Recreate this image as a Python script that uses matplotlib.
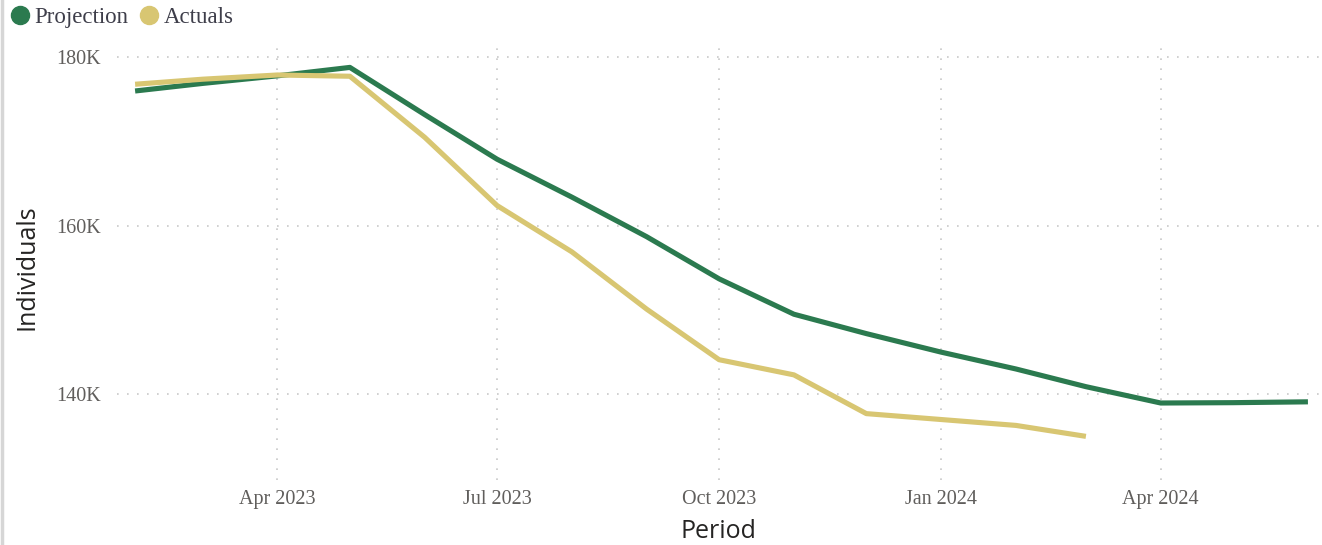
import numpy as np
import pandas as pd
import matplotlib
matplotlib.use("Agg")
import matplotlib.pyplot as plt
import matplotlib.dates as mdates
from matplotlib.lines import Line2D
from matplotlib.ticker import FuncFormatter

# data (thousands of individuals, monthly)
proj_months = pd.date_range("2023-02-01", "2024-06-01", freq="MS")
projection = [176.0, 176.9, 177.8, 178.8, 173.2, 167.9, 163.4, 158.7, 153.7,
              149.5, 147.2, 145.0, 143.0, 140.9, 138.96, 139.0, 139.1]

act_months = pd.date_range("2023-02-01", "2024-03-01", freq="MS")
actuals = [176.8, 177.4, 177.9, 177.75, 170.5, 162.4, 156.9, 150.1, 144.1,
           142.3, 137.7, 137.0, 136.3, 135.0]

yticks = [140, 160, 180]
xticks = pd.to_datetime(["2023-04-01", "2023-07-01", "2023-10-01",
                         "2024-01-01", "2024-04-01"])

green = "#2B7A4F"
khaki = "#D8C672"
tick_col = "#605E5C"
lab_col = "#252423"

W, H = 1322, 545
fig = plt.figure(figsize=(W / 100, H / 100), dpi=100)
ax = fig.add_axes([117 / W, (H - 480) / H, (1320 - 117) / W, (480 - 45) / H])

ax.plot(proj_months, np.array(projection) * 1000, color=green, lw=3.7,
        solid_capstyle="butt", solid_joinstyle="round", zorder=3)
ax.plot(act_months, np.array(actuals) * 1000, color=khaki, lw=3.7,
        solid_capstyle="butt", solid_joinstyle="round", zorder=3)

ax.set_xlim(pd.Timestamp("2023-01-24 12:00"), pd.Timestamp("2024-06-06"))
ax.set_ylim(129820, 181460)

ax.set_yticks([v * 1000 for v in yticks])
ax.yaxis.set_major_formatter(FuncFormatter(lambda v, p: f"{v/1000:.0f}K"))
ax.set_xticks(xticks)
ax.xaxis.set_major_formatter(mdates.DateFormatter("%b %Y"))

for lab in ax.get_xticklabels() + ax.get_yticklabels():
    lab.set_fontfamily("Liberation Serif")
    lab.set_fontsize(14.5)
    lab.set_color(tick_col)
ax.tick_params(axis="both", length=0)
ax.tick_params(axis="x", pad=7)
ax.tick_params(axis="y", pad=11.5)

ax.grid(True, color="#c8c8c8", lw=1.2, linestyle=(0, (1, 5)))
for s in ax.spines.values():
    s.set_visible(False)

ax.set_xlabel("Period", fontfamily="Open Sans", fontsize=18, color=lab_col)
ax.set_ylabel("Individuals", fontfamily="Open Sans", fontsize=18, color=lab_col)
ax.xaxis.set_label_coords(0.5, (480 - 531) / 435)
ax.xaxis.label.set_va("center")
ax.yaxis.set_label_coords((27 - 117) / 1203, 0.49)
ax.yaxis.label.set_va("center")

# legend
handles = [Line2D([], [], ls="", marker="o", ms=13, color=green),
           Line2D([], [], ls="", marker="o", ms=13, color=khaki)]
leg = fig.legend(handles, ["Projection", "Actuals"], loc="center left",
                 bbox_to_anchor=(13 / W, 1 - 17 / H), ncol=2, frameon=False,
                 handlelength=0.6, handletextpad=0.32, columnspacing=0.62,
                 borderaxespad=0, borderpad=0,
                 prop={"family": "Liberation Serif", "size": 16.5})
for t in leg.get_texts():
    t.set_color("#3E3E4A")

# light left frame edge
fig.add_artist(Line2D([1.5 / W, 1.5 / W], [0, 1], color="#d6d6d6", lw=2.5,
                      transform=fig.transFigure))

fig.savefig("out.png", dpi=100)
